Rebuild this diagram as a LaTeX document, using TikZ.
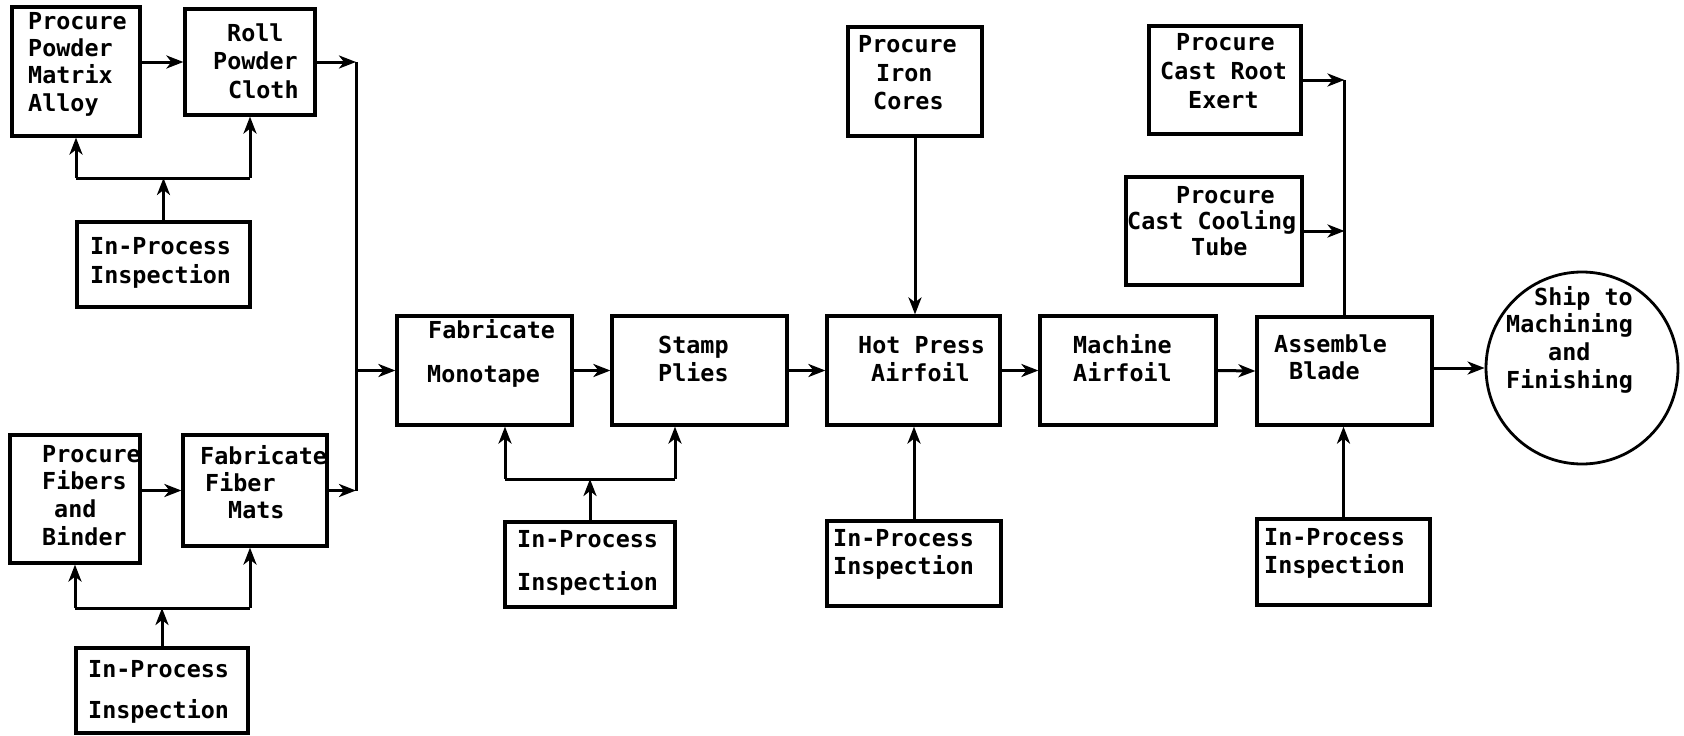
\documentclass[tikz,border=0pt]{standalone}
\usepackage{fontspec}
\newfontfamily\typew{DejaVu Sans Mono}
\usetikzlibrary{arrows.meta}
% typed text block: #1 line spacing, #2 column alignment, #3 lines
\newcommand\tlines[3]{{\fontsize{23.4}{#1}\selectfont\begin{tabular}[t]{@{}#2@{}}#3\end{tabular}}}
\tikzset{
  pbox/.style={draw, line width=3.2pt, inner sep=0pt, rectangle},
  txt/.style={inner sep=0pt, font=\typew\bfseries, anchor=base west},
  flow/.style={line width=3pt, -{Stealth[length=17pt,width=13pt,inset=5pt]}},
  plain/.style={line width=3pt}
}
\begin{document}
\begin{tikzpicture}[x=1pt,y=-1pt]
\useasboundingbox (0,0) rectangle (1684,736);

% process boxes
\node[pbox, minimum width=128, minimum height=129] (ppma)  at (76,71.5) {};
\node[pbox, minimum width=130, minimum height=106] (rpc)   at (250,62) {};
\node[pbox, minimum width=173, minimum height=85]  (insp1) at (163.5,264.5) {};
\node[pbox, minimum width=130, minimum height=128] (pfb)   at (75,499) {};
\node[pbox, minimum width=144, minimum height=111] (ffm)   at (255,490.5) {};
\node[pbox, minimum width=172, minimum height=85]  (insp2) at (162,690.5) {};
\node[pbox, minimum width=175, minimum height=109] (fm)    at (484.5,370.5) {};
\node[pbox, minimum width=175, minimum height=109] (sp)    at (699.5,370.5) {};
\node[pbox, minimum width=170, minimum height=85]  (insp3) at (590,564.5) {};
\node[pbox, minimum width=173, minimum height=109] (hp)    at (913.5,370.5) {};
\node[pbox, minimum width=134, minimum height=109] (pic)   at (915,81.5) {};
\node[pbox, minimum width=174, minimum height=85]  (insp4) at (914,563.5) {};
\node[pbox, minimum width=176, minimum height=109] (ma)    at (1128,370.5) {};
\node[pbox, minimum width=175, minimum height=108] (ab)    at (1344.5,371) {};
\node[pbox, minimum width=173, minimum height=86]  (insp5) at (1343.5,562) {};
\node[pbox, minimum width=152, minimum height=108] (pcre)  at (1225,80) {};
\node[pbox, minimum width=176, minimum height=108] (pcct)  at (1214,231) {};
\node[draw, circle, line width=2.8pt, inner sep=0pt, minimum size=192] (ship) at (1582,368) {};

% texts
\node[txt] (t-ppma)  at (28,29)    {\tlines{27.5}{l}{Procure\\Powder\\Matrix\\Alloy}};
\node[txt] (t-rpc)   at (213,41)   {\tlines{28.5}{l}{\hspace*{14pt}Roll\\Powder\\\hspace*{15pt}Cloth}};
\node[txt] (t-insp1) at (90,254)   {\tlines{29}{l}{In-Process\\Inspection}};
\node[txt] (t-pfb)   at (42,462)   {\tlines{27.7}{l}{Procure\\Fibers\\\hspace*{12pt}and\\Binder}};
\node[txt] (t-ffm)   at (200,464)  {\tlines{27}{l}{Fabricate\\\hspace*{5pt}Fiber\\\hspace*{28pt}Mats}};
\node[txt] (t-insp2) at (88,677)   {\tlines{41}{l}{In-Process\\Inspection}};
\node[txt] (t-fm)    at (427,338)  {\tlines{44}{l}{\hspace*{1pt}Fabricate\\Monotape}};
\node[txt] (t-sp)    at (658,353)  {\tlines{28}{l}{Stamp\\Plies}};
\node[txt] (t-insp3) at (517,547)  {\tlines{43}{l}{In-Process\\Inspection}};
\node[txt] (t-hp)    at (858,353)  {\tlines{28}{l}{Hot Press\\\hspace*{13pt}Airfoil}};
\node[txt] (t-ma)    at (1073,353) {\tlines{28}{l}{Machine\\Airfoil}};
\node[txt] (t-ab)    at (1274,352) {\tlines{27}{l}{Assemble\\\hspace*{15pt}Blade}};
\node[txt] (t-pic)   at (858,52)   {\tlines{29}{l}{Procure\\\hspace*{18pt}Iron\\\hspace*{15pt}Cores}};
\node[txt] (t-insp4) at (833,546)  {\tlines{28}{l}{In-Process\\Inspection}};
\node[txt] (t-insp5) at (1264,545) {\tlines{28}{l}{In-Process\\Inspection}};
\node[txt] (t-pcre)  at (1160,50)  {\tlines{29}{l}{\hspace*{16pt}Procure\\Cast Root\\\hspace*{28pt}Exert}};
\node[txt] (t-pcct)  at (1127,203) {\tlines{26}{l}{\hspace*{49pt}Procure\\Cast Cooling\\\hspace*{64pt}Tube}};
\node[txt] (t-ship)  at (1506,305) {\tlines{27.7}{l}{\hspace*{28pt}Ship to\\Machining\\\hspace*{42pt}and\\Finishing}};

% junction points of the feeder lines
\coordinate (jtop) at (356,62);
\coordinate (jbot) at (356,490.5);
\coordinate (b1) at (163.5,178);
\coordinate (b2) at (162,608);
\coordinate (b3l) at (505,479);
\coordinate (b3r) at (675,479);

% powder and fibre branches
\draw[flow] (ppma.east |- rpc.west) -- (rpc.west);
\draw[flow] (pfb.east |- ffm.west) -- (ffm.west);
\draw[flow] (rpc.east) -- (rpc.east -| jtop);
\draw[flow] (ffm.east) -- (ffm.east -| jbot);
\draw[plain] (jtop) -- (jbot);
\draw[flow] (jtop |- fm.west) -- (fm.west);

% inspection feeds, upper left
\draw[flow] (insp1.north) -- (b1);
\draw[plain] (ppma.south |- b1) -- (rpc.south |- b1);
\draw[flow] (ppma.south |- b1) -- (ppma.south);
\draw[flow] (rpc.south |- b1) -- (rpc.south);

% inspection feeds, lower left
\draw[flow] (insp2.north) -- (b2);
\draw[plain] (pfb.south |- b2) -- ([xshift=-5pt]ffm.south |- b2);
\draw[flow] (pfb.south |- b2) -- (pfb.south);
\draw[flow] ([xshift=-5pt]ffm.south |- b2) -- ([xshift=-5pt]ffm.south);

% main line
\draw[flow] (fm.east) -- (sp.west);
\draw[flow] (sp.east) -- (hp.west);
\draw[flow] (hp.east) -- (ma.west);
\draw[flow] (ma.east) -- (ab.west);
\draw[flow] (ab.east |- ship.west) -- (ship.west);

% inspection of monotape and plies
\draw[flow] (insp3.north) -- (insp3.north |- b3l);
\draw[plain] (b3l) -- (b3r);
\draw[flow] (b3l) -- (b3l |- fm.south);
\draw[flow] (b3r) -- (b3r |- sp.south);

% hot press feeds
\draw[flow] (pic.south) -- (pic.south |- hp.north);
\draw[flow] (insp4.north) -- (insp4.north |- hp.south);

% blade assembly feeds
\draw[flow] (insp5.north) -- (insp5.north |- ab.south);
\draw[plain] (ab.north) -- (ab.north |- pcre.east);
\draw[flow] (pcre.east) -- (pcre.east -| ab.north);
\draw[flow] (pcct.east) -- (pcct.east -| ab.north);
\end{tikzpicture}
\end{document}
